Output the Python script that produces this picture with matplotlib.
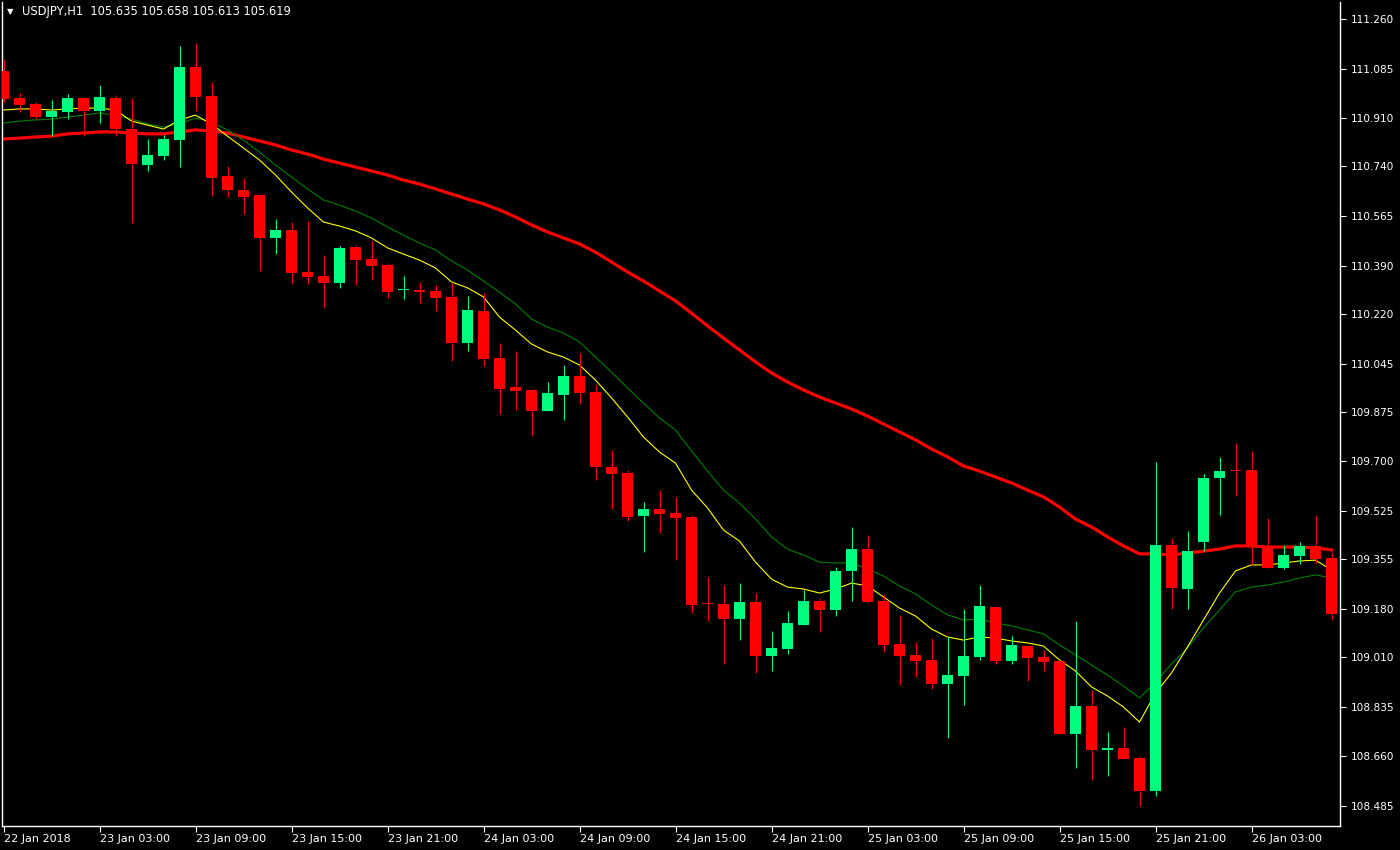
import numpy as np
import matplotlib
matplotlib.use("Agg")
import matplotlib.pyplot as plt

# USDJPY H1 candles
opens = [111.077, 110.981, 110.960, 110.914, 110.932, 110.981, 110.936, 110.981, 110.872, 110.745,
         110.777, 110.833, 111.091, 110.989, 110.706, 110.657, 110.639, 110.488, 110.516, 110.368,
         110.354, 110.329, 110.456, 110.414, 110.393, 110.303, 110.304, 110.301, 110.280, 110.118,
         110.230, 110.065, 109.962, 109.952, 109.878, 109.934, 110.001, 109.945, 109.680, 109.659,
         109.508, 109.532, 109.518, 109.504, 109.198, 109.197, 109.144, 109.204, 109.014, 109.039,
         109.123, 109.208, 109.176, 109.314, 109.391, 109.208, 109.056, 109.018, 109.000, 108.915,
         108.943, 109.010, 109.187, 108.996, 109.049, 109.010, 108.996, 108.739, 108.838, 108.684,
         108.690, 108.654, 108.538, 109.405, 109.250, 109.416, 109.642, 109.667, 109.670, 109.402,
         109.324, 109.367, 109.402, 109.360]
highs = [111.115, 110.999, 110.967, 110.974, 110.996, 110.985, 111.027, 110.992, 110.981, 110.837,
         110.851, 111.165, 111.175, 111.038, 110.742, 110.699, 110.639, 110.555, 110.544, 110.548,
         110.428, 110.460, 110.463, 110.477, 110.400, 110.354, 110.333, 110.322, 110.333, 110.283,
         110.294, 110.118, 110.089, 109.955, 109.980, 110.040, 110.082, 109.970, 109.740, 109.670,
         109.557, 109.599, 109.575, 109.511, 109.292, 109.264, 109.271, 109.236, 109.102, 109.173,
         109.247, 109.218, 109.328, 109.469, 109.441, 109.233, 109.159, 109.063, 109.077, 109.081,
         109.180, 109.264, 109.190, 109.085, 109.049, 109.035, 109.000, 109.137, 108.894, 108.746,
         108.764, 108.661, 109.698, 109.430, 109.455, 109.656, 109.716, 109.765, 109.737, 109.501,
         109.405, 109.416, 109.508, 109.381]
lows = [110.967, 110.932, 110.907, 110.847, 110.907, 110.847, 110.893, 110.847, 110.541, 110.724,
        110.763, 110.738, 110.936, 110.636, 110.632, 110.572, 110.372, 110.431, 110.329, 110.326,
        110.245, 110.312, 110.322, 110.340, 110.276, 110.273, 110.259, 110.230, 110.054, 110.089,
        110.037, 109.867, 109.881, 109.793, 109.878, 109.846, 109.903, 109.635, 109.532, 109.490,
        109.381, 109.448, 109.352, 109.166, 109.137, 108.986, 109.070, 108.954, 108.961, 109.021,
        109.123, 109.099, 109.155, 109.208, 109.201, 109.028, 108.912, 108.940, 108.898, 108.725,
        108.841, 109.000, 108.986, 108.986, 108.926, 108.961, 108.739, 108.619, 108.577, 108.591,
        108.651, 108.485, 108.520, 109.180, 109.180, 109.384, 109.511, 109.578, 109.335, 109.324,
        109.321, 109.338, 109.342, 109.144]
closes = [110.978, 110.957, 110.914, 110.936, 110.981, 110.936, 110.985, 110.872, 110.749, 110.780,
          110.837, 111.091, 110.985, 110.699, 110.657, 110.632, 110.488, 110.516, 110.364, 110.350,
          110.329, 110.453, 110.410, 110.389, 110.297, 110.305, 110.297, 110.276, 110.118, 110.234,
          110.061, 109.955, 109.948, 109.878, 109.941, 110.001, 109.941, 109.680, 109.656, 109.504,
          109.532, 109.515, 109.501, 109.194, 109.196, 109.144, 109.204, 109.014, 109.042, 109.130,
          109.208, 109.176, 109.314, 109.391, 109.204, 109.053, 109.014, 108.996, 108.915, 108.947,
          109.014, 109.190, 108.996, 109.053, 109.007, 108.993, 108.739, 108.838, 108.683, 108.687,
          108.651, 108.538, 109.405, 109.254, 109.384, 109.642, 109.666, 109.665, 109.398, 109.324,
          109.370, 109.402, 109.356, 109.162]

# moving averages
ma_slow = [110.837, 110.840, 110.844, 110.847, 110.855, 110.858, 110.862, 110.862, 110.858, 110.855,
           110.855, 110.862, 110.869, 110.865, 110.858, 110.844, 110.830, 110.816, 110.798, 110.784,
           110.766, 110.752, 110.738, 110.724, 110.710, 110.692, 110.678, 110.661, 110.643, 110.625,
           110.608, 110.587, 110.562, 110.534, 110.509, 110.488, 110.467, 110.438, 110.403, 110.368,
           110.336, 110.301, 110.266, 110.223, 110.178, 110.135, 110.093, 110.051, 110.012, 109.980,
           109.952, 109.927, 109.906, 109.885, 109.860, 109.832, 109.804, 109.776, 109.744, 109.716,
           109.684, 109.666, 109.645, 109.624, 109.599, 109.575, 109.539, 109.497, 109.469, 109.434,
           109.402, 109.374, 109.374, 109.370, 109.377, 109.384, 109.391, 109.402, 109.402, 109.398,
           109.398, 109.398, 109.395, 109.388]
ma_fast = [110.939, 110.943, 110.943, 110.939, 110.943, 110.946, 110.946, 110.939, 110.900, 110.886,
           110.872, 110.904, 110.921, 110.890, 110.847, 110.805, 110.763, 110.710, 110.650, 110.594,
           110.544, 110.530, 110.513, 110.488, 110.453, 110.431, 110.410, 110.382, 110.333, 110.312,
           110.280, 110.209, 110.163, 110.114, 110.086, 110.068, 110.040, 109.987, 109.924, 109.857,
           109.786, 109.733, 109.694, 109.599, 109.536, 109.458, 109.419, 109.345, 109.285, 109.257,
           109.250, 109.236, 109.250, 109.271, 109.261, 109.222, 109.183, 109.155, 109.109, 109.081,
           109.070, 109.081, 109.077, 109.067, 109.060, 109.049, 109.000, 108.961, 108.905, 108.873,
           108.834, 108.781, 108.883, 108.954, 109.046, 109.141, 109.236, 109.314, 109.335, 109.335,
           109.342, 109.349, 109.352, 109.317]
ma_mid = [110.893, 110.900, 110.904, 110.907, 110.914, 110.921, 110.929, 110.921, 110.907, 110.890,
          110.879, 110.890, 110.911, 110.897, 110.869, 110.833, 110.791, 110.745, 110.703, 110.661,
          110.622, 110.604, 110.583, 110.558, 110.527, 110.498, 110.470, 110.446, 110.407, 110.375,
          110.336, 110.297, 110.255, 110.202, 110.174, 110.153, 110.121, 110.068, 110.015, 109.959,
          109.906, 109.853, 109.811, 109.737, 109.666, 109.599, 109.553, 109.497, 109.434, 109.391,
          109.370, 109.345, 109.342, 109.342, 109.321, 109.296, 109.261, 109.233, 109.194, 109.159,
          109.141, 109.144, 109.130, 109.120, 109.106, 109.092, 109.053, 109.018, 108.982, 108.947,
          108.908, 108.866, 108.922, 108.986, 109.042, 109.113, 109.176, 109.240, 109.257, 109.264,
          109.275, 109.289, 109.300, 109.289]

time_labels = ["22 Jan 2018", "23 Jan 03:00", "23 Jan 09:00", "23 Jan 15:00", "23 Jan 21:00",
               "24 Jan 03:00", "24 Jan 09:00", "24 Jan 15:00", "24 Jan 21:00", "25 Jan 03:00",
               "25 Jan 09:00", "25 Jan 15:00", "25 Jan 21:00", "26 Jan 03:00"]
price_labels = ["108.485", "108.660", "108.835", "109.010", "109.180", "109.355", "109.525",
                "109.700", "109.875", "110.045", "110.220", "110.390", "110.565", "110.740",
                "110.910", "111.085", "111.260"]

UP = "#00FF7F"
DOWN = "#FF0000"

o = np.array(opens)
h = np.array(highs)
l = np.array(lows)
c = np.array(closes)
x = np.arange(len(o))
cols = np.where(c > o, UP, DOWN)

fig = plt.figure(figsize=(14, 8.5), dpi=100, facecolor="black")
ax = fig.add_axes([2 / 1400, 24 / 850, 1338 / 1400, 824 / 850])
ax.set_facecolor("black")

# moving averages under the candles
ax.plot(x, ma_slow, color="#FF0000", lw=2.3, zorder=2, solid_joinstyle="round")
ax.plot(x, ma_mid, color="#008000", lw=0.8, zorder=2)
ax.plot(x, ma_fast, color="#FFFF00", lw=0.8, zorder=2)

# candles
ax.vlines(x, l, h, colors=cols, lw=0.8, zorder=3)
bottom = np.minimum(o, c)
height = np.maximum(np.abs(c - o), 0.005)
ax.bar(x, height, bottom=bottom, width=0.69, color=cols, linewidth=0, zorder=4)

ax.set_xlim(-0.094, 83.53)
ax.set_ylim(108.4145, 111.320)

# axes look
for s in ax.spines.values():
    s.set_color("white")
    s.set_linewidth(1)
ax.spines["top"].set_visible(False)

ax.yaxis.tick_right()
ax.set_yticks([float(v) for v in price_labels])
ax.set_yticklabels(price_labels)
ax.set_xticks(x[::6])
ax.set_xticklabels(time_labels)
for lbl in ax.get_xticklabels():
    lbl.set_horizontalalignment("left")
ax.tick_params(axis="both", colors="white", labelcolor="white", direction="out",
               length=4, width=0.8)
ax.tick_params(axis="x", pad=2, labelsize=8)
ax.tick_params(axis="y", pad=4, labelsize=7.6)

# header
fig.text(7 / 1400, 1 - 12 / 850, "\u25bc", color="white", fontsize=6, va="center")
fig.text(22 / 1400, 1 - 12 / 850, "USDJPY,H1  105.635 105.658 105.613 105.619",
         color="white", fontsize=8.3, va="center")

fig.savefig("out.png", dpi=100, facecolor="black")
